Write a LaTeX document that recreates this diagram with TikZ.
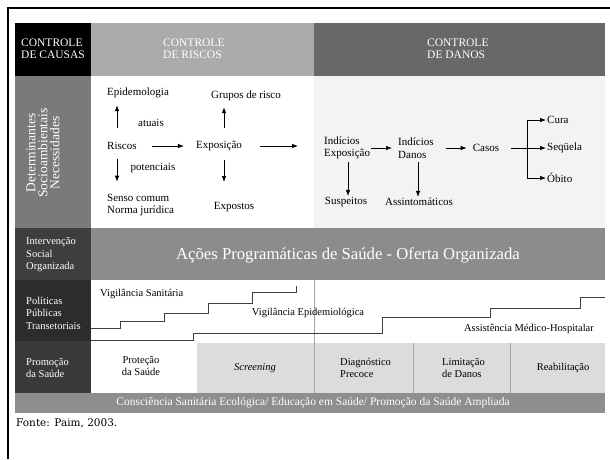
\documentclass[tikz,border=0pt]{standalone}
\usepackage{fontspec}
\setmainfont{Liberation Serif}
\newfontfamily\fontefont{DejaVu Serif}
\usetikzlibrary{arrows.meta,calc}
\definecolor{hdrA}{HTML}{ABABAB}
\definecolor{hdrB}{HTML}{686868}
\definecolor{labA}{HTML}{7A7A7A}
\definecolor{labB}{HTML}{3E3E3E}
\definecolor{labC}{HTML}{2C2C2C}
\definecolor{labD}{HTML}{3A3A3A}
\definecolor{bandA}{HTML}{8C8C8C}
\definecolor{bandB}{HTML}{8E8E8E}
\definecolor{cellg}{HTML}{DCDCDC}
\definecolor{offw}{HTML}{F3F3F3}
\begin{document}
\begin{tikzpicture}[x=1pt,y=-1pt,
  txt/.style={font=\fontsize{11}{12.5}\selectfont, inner sep=0pt, align=left},
  txtb/.style={font=\fontsize{10.5}{12.5}\selectfont, inner sep=0pt, align=left},
  lbl/.style={font=\fontsize{10.5}{12.5}\selectfont, text=white, inner sep=0pt, align=left, anchor=west},
  hdr/.style={font=\fontsize{11.5}{12}\selectfont, text=white, inner sep=0pt, align=left, anchor=west},
  arr/.style={-{Latex[length=6pt,width=4.5pt]}, line width=0.7pt},
  stair/.style={line width=0.6pt, draw=black!75},
  divider/.style={line width=0.4pt, draw=black!35}]
\useasboundingbox (0,0) rectangle (610,459);
\fill[white] (0,0) rectangle (610,459);
% outer frame
\draw[line width=2.5pt] (8,459) -- (8,8) -- (610,8);
% header row
\fill[black] (15,23) rectangle (91,76);
\fill[hdrA] (91,23) rectangle (314,76);
\fill[hdrB] (314,23) rectangle (605,76);
% row 2
\fill[labA] (15,76) rectangle (91,228);
\fill[offw] (314,76) rectangle (605,228);
% row 3
\fill[labB] (15,228) rectangle (91,280);
\fill[bandA] (91,228) rectangle (605,280);
% row 4
\fill[labC] (15,280) rectangle (91,341);
% row 5
\fill[labD] (15,341) rectangle (91,393);
\fill[cellg] (197,343) rectangle (605,393);
\draw[divider] (314,280) -- (314,393);
\draw[divider] (413,343) -- (413,393);
\draw[divider] (510,343) -- (510,393);
% bottom band
\fill[bandB] (15,393) rectangle (605,413);

% header texts
\node[hdr] (hcausas) at (21,49) {CONTROLE\\DE CAUSAS};
\node[hdr] (hriscos) at (163,49) {CONTROLE\\DE RISCOS};
\node[hdr] (hdanos) at (427,49) {CONTROLE\\DE DANOS};

% row 2 label
\node[rotate=90, font=\fontsize{13.5}{12}\selectfont, text=white, align=center, inner sep=0pt] (det) at (43,153) {Determinantes\\Socioambientais\\Necessidades};

% row 2 diagram
\node[txt, anchor=west] (epi) at (107,93) {Epidemologia};
\node[txt] (atuais) at (151,123) {atuais};
\node[txt, anchor=west] (riscos) at (107,146) {Riscos};
\node[txt] (potenc) at (153,168) {potenciais};
\node[txt, anchor=west] (senso) at (107,205) {Senso comum\\Norma jurídica};
\node[txt] (expo) at (219,146) {Exposição};
\node[txt] (grupos) at (246,96) {Grupos de risco};
\node[txt] (expostos) at (234,207) {Expostos};
\node[txt, anchor=west] (ie) at (324,148) {Indícios\\Exposição};
\node[txt, anchor=west] (idn) at (398,148) {Indícios\\Danos};
\node[txt] (casos) at (486,148) {Casos};
\node[txt, anchor=west] (cura) at (547,120) {Cura};
\node[txt, anchor=west] (seq) at (547,148) {Seqüela};
\node[txt, anchor=west] (obito) at (547,178) {Óbito};
\node[txt] (susp) at (346,202) {Suspeitos};
\node[txt] (assint) at (419,202) {Assintomáticos};

\coordinate (ax1) at (117,0);
\coordinate (ax2) at (224,0);
\coordinate (ax3) at (348,0);
\coordinate (ax4) at (418,0);
\coordinate (brx) at (527,0);

\draw[arr, shorten <=14pt, shorten >=7pt] (riscos.north -| ax1) -- (epi.south -| ax1);
\draw[arr, shorten <=9pt, shorten >=12pt] (riscos.south -| ax1) -- (senso.north -| ax1);
\draw[arr, shorten <=15pt, shorten >=12pt] (riscos.east) -- (expo.west);
\draw[arr, shorten <=13pt, shorten >=6pt] (expo.north -| ax2) -- (grupos.south -| ax2);
\draw[arr, shorten <=9pt, shorten >=20pt] (expo.south -| ax2) -- (expostos.north -| ax2);
\draw[arr, shorten <=18pt, shorten >=26pt] (expo.east) -- (expo.east -| ie.west);
\draw[arr, shorten <=1pt, shorten >=6pt] (ie.east) -- (idn.west);
\draw[arr, shorten <=12pt, shorten >=6pt] (idn.east) -- (idn.east -| casos.west);
\draw[arr, shorten <=12pt, shorten >=1pt] (casos.east) -- (casos.east -| seq.west);
\draw[line width=0.7pt] (cura.west -| brx) -- (obito.west -| brx);
\draw[arr, shorten >=1pt] (cura.west -| brx) -- (cura.west);
\draw[arr, shorten >=1pt] (obito.west -| brx) -- (obito.west);
\draw[arr, shorten <=3pt, shorten >=1pt] (ie.south -| ax3) -- (susp.north -| ax3);
\draw[arr, shorten <=4pt, shorten >=1pt] (idn.south -| ax4) -- (assint.north -| ax4);

% row 3
\node[lbl] (isoc) at (26,255) {Intervenção\\Social\\Organizada};
\node[font=\fontsize{16.7}{18}\selectfont, text=white, inner sep=0pt] (acoes) at (348,255) {Ações Programáticas de Saúde - Oferta Organizada};

% row 4
\node[lbl] (ppt) at (26,313) {Políticas\\Públicas\\Transetoriais};
\draw[stair] (91,328) -- (120,328) -- (120,321) -- (164,321) -- (164,313) -- (208,313) -- (208,303) -- (252,303) -- (252,292) -- (296,292) -- (296,286);
\draw[stair] (91,340) -- (193,340) -- (193,333) -- (382,333) -- (382,317) -- (490,317) -- (490,308) -- (580,308) -- (580,297) -- (605,297);
\node[txtb, anchor=west] (vsan) at (100,294) {Vigilância Sanitária};
\node[txtb] (vepi) at (308,313) {Vigilância Epidemiológica};
\node[txtb] (amh) at (529,329) {Assistência Médico-Hospitalar};

% row 5
\node[lbl] (prom) at (26,368) {Promoção\\da Saúde};
\node[txtb, align=center] (prot) at (141,366) {Proteção\\da Saúde};
\node[txtb, font=\fontsize{10.5}{12.5}\selectfont\itshape] (scr) at (255,368) {Screening};
\node[txtb, anchor=west] (diag) at (340,368) {Diagnóstico\\Precoce};
\node[txtb, anchor=west] (lim) at (442,368) {Limitação\\de Danos};
\node[txtb] (reab) at (563,368) {Reabilitação};

% bottom band
\node[font=\fontsize{11.5}{12}\selectfont, text=white, inner sep=0pt] (consc) at (313,403) {Consciência Sanitária Ecológica/ Educação em Saúde/ Promoção da Saúde Ampliada};

% source
\node[anchor=west, inner sep=0pt, font=\fontefont\fontsize{10.5}{12}\selectfont] (fonte) at (16,423) {Fonte: Paim, 2003.};
\end{tikzpicture}
\end{document}
